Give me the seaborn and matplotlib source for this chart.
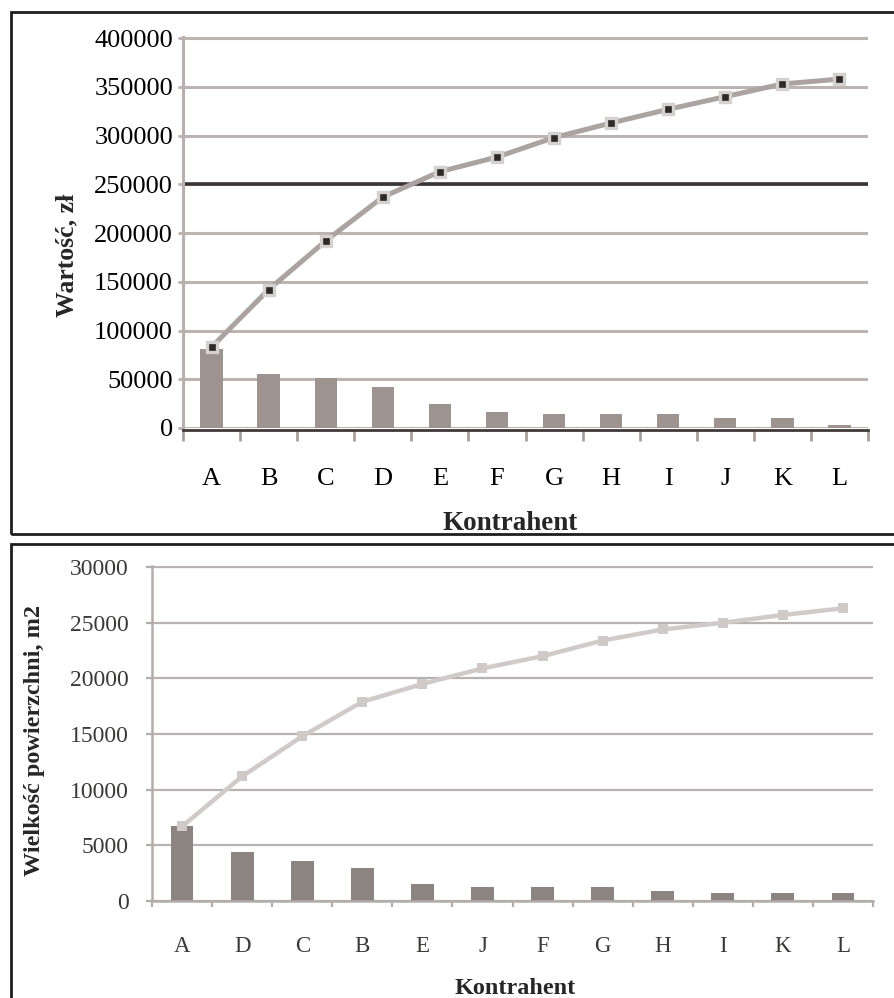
import matplotlib.pyplot as plt
import numpy as np
import pandas as pd
import seaborn as sns
from matplotlib.patches import Rectangle

# Data
top_labels = ["A", "B", "C", "D", "E", "F", "G", "H", "I", "J", "K", "L"]
top_bars = [81000, 55000, 51000, 42000, 25000, 16000, 14000, 14000, 14000, 10000, 10000, 3000]
top_cumulative = [83000, 142000, 192000, 237000, 263000, 278000, 298000, 313000, 327000, 340000, 353000, 358000]
top_threshold = 250000
top_yticks = list(range(0, 400001, 50000))

bottom_labels = ["A", "D", "C", "B", "E", "J", "F", "G", "H", "I", "K", "L"]
bottom_bars = [6700, 4400, 3600, 3000, 1500, 1300, 1300, 1300, 900, 700, 700, 700]
bottom_cumulative = [6700, 11200, 14800, 17900, 19500, 20900, 22000, 23400, 24400, 25000, 25700, 26300]
bottom_yticks = list(range(0, 30001, 5000))

sns.set_style("white")
plt.rcParams["font.family"] = ["Liberation Serif", "DejaVu Serif"]

W, H = 894, 998
fig = plt.figure(figsize=(W / 100, H / 100), dpi=100)


def px_axes(left, top, right, bottom):
    return fig.add_axes([left / W, 1 - bottom / H, (right - left) / W, (bottom - top) / H])


def frame(left, top, right, bottom):
    fig.add_artist(Rectangle((left / W, 1 - bottom / H), (right - left) / W, (bottom - top) / H,
                             transform=fig.transFigure, fill=False, ec="#1e1e1e", lw=2))


frame(11, 12, 905, 534)
frame(11, 544, 905, 1010)

# ---- top chart: value
ax1 = px_axes(183, 36.7, 868, 428)
df_top = pd.DataFrame({"kontrahent": top_labels, "wartosc": top_bars})
sns.barplot(data=df_top, x="kontrahent", y="wartosc", color="#9d9490", saturation=1,
            width=0.39, linewidth=0, ax=ax1, zorder=2)
ax1.axhline(top_threshold, color="#3a3434", lw=2.6, zorder=1.5)
sns.lineplot(x=np.arange(len(top_labels)), y=top_cumulative, ax=ax1, color="#aaa3a0", lw=3.6,
             marker="s", markersize=6.5, markerfacecolor="#2e2a2a", markeredgecolor="#d5d1ce",
             markeredgewidth=2.4, zorder=4)

ax1.set_xlim(-0.5, len(top_labels) - 0.5)
ax1.set_ylim(0, 401500)
ax1.set_yticks(top_yticks)
ax1.set_yticklabels([str(v) for v in top_yticks])
ax1.set_xticks(np.arange(len(top_labels)))
ax1.set_xticklabels(top_labels)
ax1.set_xticks(np.arange(-0.5, len(top_labels)), minor=True)
ax1.yaxis.grid(True, color="#bcb4b1", lw=2.2)
ax1.set_axisbelow(True)
for s in ["top", "right"]:
    ax1.spines[s].set_visible(False)
ax1.spines["left"].set_color("#b8b0ad")
ax1.spines["left"].set_linewidth(2.2)
ax1.spines["bottom"].set_color("#403a3a")
ax1.spines["bottom"].set_linewidth(2)
ax1.spines["bottom"].set_position(("outward", 1.5))
ax1.tick_params(axis="y", left=True, length=3.6, width=2, color="#b8b0ad", labelsize=19, pad=3.6,
                labelcolor="black")
ax1.tick_params(axis="x", which="major", bottom=True, length=0, labelsize=19, pad=27, labelcolor="black")
ax1.tick_params(axis="x", which="minor", bottom=True, length=8, width=2, color="#a8a09d")
ax1.set_xlabel("Kontrahent", fontsize=19.5, fontweight="bold", va="center")
ax1.set_ylabel("Wartość, zł", fontsize=18.5, fontweight="bold", va="center")
ax1.xaxis.set_label_coords(510 / W, 1 - 523 / H, transform=fig.transFigure)
ax1.yaxis.set_label_coords(67 / W, 1 - 255 / H, transform=fig.transFigure)

# ---- bottom chart: area
ax2 = px_axes(152, 566, 873, 901)
df_bot = pd.DataFrame({"kontrahent": bottom_labels, "powierzchnia": bottom_bars})
sns.barplot(data=df_bot, x="kontrahent", y="powierzchnia", color="#8c8480", saturation=1,
            width=0.38, linewidth=0, ax=ax2, zorder=2)
sns.lineplot(x=np.arange(len(bottom_labels)), y=bottom_cumulative, ax=ax2, color="#d0cbc8", lw=3.2,
             marker="s", markersize=7, markerfacecolor="#cfcac7", markeredgecolor="#cfcac7",
             markeredgewidth=0, zorder=4)

ax2.set_xlim(-0.5, len(bottom_labels) - 0.5)
ax2.set_ylim(0, 30100)
ax2.set_yticks(bottom_yticks)
ax2.set_yticklabels([str(v) for v in bottom_yticks])
ax2.set_xticks(np.arange(len(bottom_labels)))
ax2.set_xticklabels(bottom_labels)
ax2.set_xticks(np.arange(-0.5, len(bottom_labels)), minor=True)
ax2.yaxis.grid(True, color="#b9b3b0", lw=1.6)
ax2.set_axisbelow(True)
for s in ["top", "right"]:
    ax2.spines[s].set_visible(False)
for s in ["left", "bottom"]:
    ax2.spines[s].set_color("#b3adaa")
    ax2.spines[s].set_linewidth(1.8)
ax2.tick_params(axis="y", left=True, length=4, width=1.6, color="#b3adaa", labelsize=17, pad=13,
                labelcolor="#3c3838")
ax2.tick_params(axis="x", which="major", bottom=True, length=0, labelsize=16.5, pad=25, labelcolor="#3c3838")
ax2.tick_params(axis="x", which="minor", bottom=True, length=4, width=1.6, color="#b3adaa")
ax2.set_xlabel("Kontrahent", fontsize=17.5, fontweight="bold", va="center")
ax2.set_ylabel("Wielkość powierzchni, m2", fontsize=17.5, fontweight="bold", va="center")
ax2.xaxis.set_label_coords(515 / W, 1 - 988 / H, transform=fig.transFigure)
ax2.yaxis.set_label_coords(35 / W, 1 - 741 / H, transform=fig.transFigure)

fig.savefig("out.png", dpi=100)
